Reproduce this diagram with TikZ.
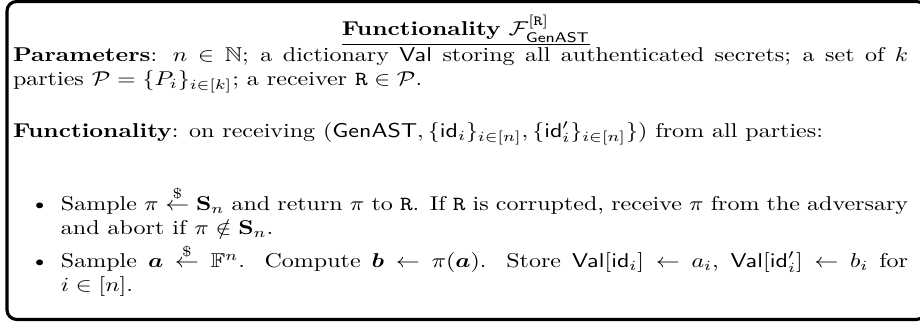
\documentclass[tikz,border=0pt]{standalone}
\usepackage{amsfonts, amssymb, amsmath}
\usepackage{enumitem}
\usepackage{tikz}
\usetikzlibrary{positioning}

\newcommand{\Val}{\mathsf{Val}}
\newcommand{\idn}{\mathsf{id}}
\newcommand{\sampleto}{\stackrel{\$}{\leftarrow}}

\begin{document}
\begin{tikzpicture}[x=0.4167pt,y=-0.5pt,yscale=0.8333,transform shape,
    txt/.style={inner sep=0pt, outer sep=0pt, text width=373pt, align=justify, anchor=base west}]
        \useasboundingbox (0,0) rectangle (920,325);
        \draw [line width=1.3pt, rounded corners=4pt] (7,1.5) rectangle (926,319.5);
        \node (title) [inner sep=0pt, anchor=base] at (466,36) {\underline{\textbf{Functionality} $\mathcal{F}^{[\mathtt{R}]}_{\mathsf{GenAST}}$}};
        \node (params) [txt] at (13,62) {\textbf{Parameters}: $n \in \mathbb{N}$; a dictionary $\Val$ storing all authenticated secrets; a set of $k$ parties $\mathcal{P} = \{P_i\}_{i \in [k]}$; a receiver $\mathtt{R} \in \mathcal{P}$.};
        \node (func) [txt] at (13,138) {\textbf{Functionality}: on receiving $(\mathsf{GenAST}, \{\idn_i\}_{i \in [n]}, \{\idn'_i\}_{i \in [n]}\})$ from all parties:};
        \node (steps) [txt, anchor=south west] at (13,297) {%
          \begin{itemize}[leftmargin=20pt, labelsep=5pt, topsep=0pt, itemsep=2.5pt, parsep=0pt]
            \item Sample $\pi \sampleto \mathbf{S}_n$ and return $\pi$ to $\mathtt{R}$. If $\mathtt{R}$ is corrupted, receive $\pi$ from the adversary and abort if $\pi \notin \mathbf{S}_n$.
            \item Sample $\boldsymbol{a} \sampleto \mathbb{F}^n$. Compute $\boldsymbol{b} \leftarrow \pi(\boldsymbol{a})$. Store $\Val[\idn_i] \leftarrow a_i$, $\Val[\idn'_i] \leftarrow b_i$ for\linebreak $i \in [n]$.
          \end{itemize}};
      \end{tikzpicture}
\end{document}
